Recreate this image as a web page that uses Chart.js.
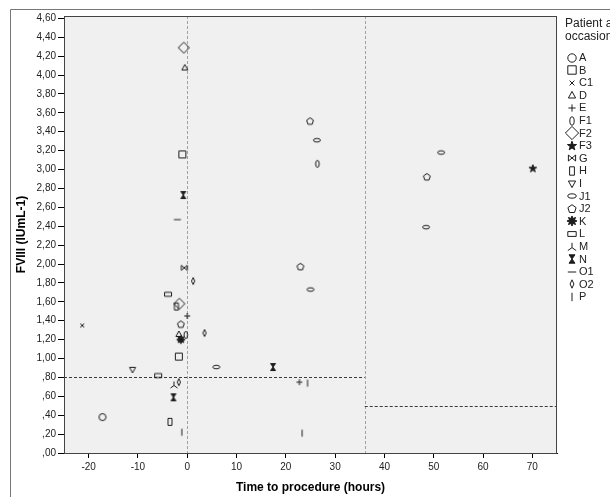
<!DOCTYPE html>
<html>
<head>
<meta charset="utf-8">
<script src="https://cdn.jsdelivr.net/npm/chart.js@4"></script>
<style>
  body { margin: 0; background: #fff; }
  canvas { display: block; }
</style>
</head>
<body>
<canvas id="fviiiChart" width="610" height="497"></canvas>
<script>
        // Patient / occasion series
        const patients = ['A', 'B', 'C1', 'D', 'E', 'F1', 'F2', 'F3', 'G', 'H', 'I', 'J1', 'J2', 'K', 'L', 'M', 'N', 'O1', 'O2', 'P'];
        const hours = [
            [-17.2],
            [-1.7, -1.0],
            [-21.3],
            [-0.5, -1.7],
            [0.0, 22.75],
            [26.4, -0.3],
            [-0.7, -1.6],
            [70.1],
            [-0.6],
            [-2.2, -3.5],
            [-11.1],
            [26.3, 25.0, 5.9, 51.5, 48.45],
            [24.9, 22.95, 48.6, -1.3],
            [-1.3],
            [-3.9, -5.9],
            [-2.7],
            [-0.8, 17.4, -2.8],
            [-2.0],
            [1.2, 3.5, -1.7],
            [-1.1, 24.4, 23.3]
        ];
        const fviii = [
            [0.38],
            [1.02, 3.16],
            [1.35],
            [4.08, 1.26],
            [1.45, 0.75],
            [3.06, 1.25],
            [4.29, 1.58],
            [3.01],
            [1.96],
            [1.55, 0.33],
            [0.88],
            [3.31, 1.73, 0.91, 3.18, 2.39],
            [3.51, 1.97, 2.92, 1.36],
            [1.20],
            [1.68, 0.82],
            [0.72],
            [2.73, 0.91, 0.59],
            [2.47],
            [1.82, 1.27, 0.75],
            [0.22, 0.74, 0.21]
        ];
        const xTicks = [-20, -10, 0, 10, 20, 30, 40, 50, 60, 70];
        const yTicks = [0, 0.2, 0.4, 0.6, 0.8, 1.0, 1.2, 1.4, 1.6, 1.8, 2.0, 2.2, 2.4, 2.6, 2.8, 3.0, 3.2, 3.4, 3.6, 3.8, 4.0, 4.2, 4.4, 4.6];
        // reference lines: vertical at time, horizontal [level, from, to]
        const cutTimes = [0, 36];
        const cutLevels = [[0.8, -25, 36], [0.5, 36, 75]];

        const INK = '#1c1c1c';
        const FONT = 'Liberation Sans, Arial, sans-serif';

        // marker glyphs drawn into small canvases, used as pointStyle
        function glyph(name, k) {
            const size = 18;
            const c = document.createElement('canvas');
            c.width = size; c.height = size;
            const g = c.getContext('2d');
            g.translate(size / 2, size / 2);
            g.strokeStyle = INK;
            g.fillStyle = INK;
            g.lineWidth = 1;
            const poly = (pts, fill) => {
                g.beginPath();
                pts.forEach((p, i) => i ? g.lineTo(p[0] * k, p[1] * k) : g.moveTo(p[0] * k, p[1] * k));
                g.closePath();
                if (fill) g.fill();
                g.stroke();
            };
            const line = (x1, y1, x2, y2) => {
                g.beginPath(); g.moveTo(x1 * k, y1 * k); g.lineTo(x2 * k, y2 * k); g.stroke();
            };
            const star = (n, ro, ri) => {
                const pts = [];
                for (let i = 0; i < n * 2; i++) {
                    const r = i % 2 ? ri : ro;
                    const a = -Math.PI / 2 + i * Math.PI / n;
                    pts.push([r * Math.cos(a), r * Math.sin(a)]);
                }
                return pts;
            };
            switch (name) {
                case 'A': g.beginPath(); g.arc(0, 0, 3.5 * k, 0, Math.PI * 2); g.stroke(); break;
                case 'B': poly([[-3.5, -3.5], [3.5, -3.5], [3.5, 3.5], [-3.5, 3.5]]); break;
                case 'C1': line(-2, -2, 2, 2); line(-2, 2, 2, -2); break;
                case 'D': poly([[0, -3], [3, 2.5], [-3, 2.5]]); break;
                case 'E': line(-3, 0, 3, 0); line(0, -3, 0, 3); break;
                case 'F1': g.beginPath(); g.ellipse(0, 0, 1.8 * k, 3.5 * k, 0, 0, Math.PI * 2); g.stroke(); break;
                case 'F2': poly([[0, -5.5], [5.5, 0], [0, 5.5], [-5.5, 0]]); break;
                case 'F3': poly(star(5, 4, 1.6), true); break;
                case 'G': poly([[-3, -2.5], [3, 2.5], [3, -2.5], [-3, 2.5]]); break;
                case 'H': poly([[-2, -3.5], [2, -3.5], [2, 3.5], [-2, 3.5]]); break;
                case 'I': poly([[0, 3], [3, -2.5], [-3, -2.5]]); break;
                case 'J1': g.beginPath(); g.ellipse(0, 0, 3.5 * k, 1.8 * k, 0, 0, Math.PI * 2); g.stroke(); break;
                case 'J2': poly(star(5, 3.6, 3.6 * Math.cos(Math.PI / 5)).filter((p, i) => i % 2 === 0)); break;
                case 'K': poly(star(8, 4.2, 2.2), true); break;
                case 'L': poly([[-3.5, -2], [3.5, -2], [3.5, 2], [-3.5, 2]]); break;
                case 'M': line(0, -3.5, 0, 0.5); line(0, 0.5, -3.5, 3); line(0, 0.5, 3.5, 3); break;
                case 'N': poly([[-2.5, -3.5], [2.5, -3.5], [-2.5, 3.5], [2.5, 3.5]], true); break;
                case 'O1': line(-3.5, 0, 3.5, 0); break;
                case 'O2': poly([[0, -3.5], [1.6, 0], [0, 3.5], [-1.6, 0]]); break;
                case 'P': line(0, -3.5, 0, 3.5); break;
            }
            return c;
        }

        const plotGlyphs = patients.map(p => glyph(p, 1));
        const legendGlyphs = patients.map(p => glyph(p, 1.2));

        const datasets = patients.map((p, i) => ({
            label: p,
            data: hours[i].map((h, j) => ({ x: h, y: fviii[i][j] })),
            pointStyle: plotGlyphs[i],
            pointRadius: 4,
            borderColor: INK,
            backgroundColor: INK
        }));

        const fmtY = v => {
            const s = v.toFixed(2).replace('.', ',');
            return v < 1 ? s.slice(1) : s;
        };

        const spssDecor = {
            id: 'spssDecor',
            beforeDraw(chart) {
                const { ctx, chartArea: a } = chart;
                ctx.save();
                ctx.fillStyle = '#fff';
                ctx.fillRect(0, 0, chart.width, chart.height);
                ctx.fillStyle = '#f0f0f0';
                ctx.fillRect(a.left, a.top, a.right - a.left, a.bottom - a.top);
                // outer frame
                ctx.strokeStyle = '#777';
                ctx.lineWidth = 1;
                ctx.beginPath();
                ctx.moveTo(10.5, chart.height);
                ctx.lineTo(10.5, 9.5);
                ctx.lineTo(chart.width, 9.5);
                ctx.stroke();
                ctx.restore();
            },
            beforeDatasetsDraw(chart) {
                const { ctx, chartArea: a, scales: { x, y } } = chart;
                ctx.save();
                ctx.lineWidth = 1;
                ctx.setLineDash([3, 2]);
                ctx.strokeStyle = '#a0a0a0';
                cutTimes.forEach(t => {
                    const px = Math.round(x.getPixelForValue(t)) + 0.5;
                    ctx.beginPath(); ctx.moveTo(px, a.top); ctx.lineTo(px, a.bottom); ctx.stroke();
                });
                ctx.strokeStyle = '#3a3a3a';
                cutLevels.forEach(([lv, from, to]) => {
                    const py = Math.round(y.getPixelForValue(lv)) + 0.5;
                    ctx.beginPath(); ctx.moveTo(x.getPixelForValue(from), py); ctx.lineTo(x.getPixelForValue(to), py); ctx.stroke();
                });
                ctx.restore();
            },
            afterDraw(chart) {
                const { ctx, chartArea: a } = chart;
                ctx.save();
                ctx.strokeStyle = '#444';
                ctx.lineWidth = 1;
                ctx.strokeRect(a.left + 0.5, a.top + 0.5, a.right - a.left - 1, a.bottom - a.top);
                // legend
                ctx.fillStyle = '#222';
                ctx.textBaseline = 'middle';
                ctx.font = '12px ' + FONT;
                ctx.fillText('Patient and', 565, 24);
                ctx.fillText('occasion', 565, 37);
                ctx.font = '11px ' + FONT;
                patients.forEach((p, i) => {
                    const cy = 57.5 + i * 12.6;
                    const gl = legendGlyphs[i];
                    ctx.drawImage(gl, Math.round(572 - gl.width / 2), Math.round(cy - gl.height / 2));
                    ctx.fillText(p, 579, cy + 0.5);
                });
                ctx.restore();
            }
        };

        new Chart(document.getElementById('fviiiChart').getContext('2d'), {
            type: 'scatter',
            data: { datasets },
            plugins: [spssDecor],
            options: {
                responsive: false,
                animation: false,
                devicePixelRatio: 1,
                layout: { padding: { left: 0, top: 16, right: 53, bottom: 0 } },
                plugins: {
                    legend: { display: false },
                    tooltip: { enabled: false }
                },
                scales: {
                    x: {
                        type: 'linear',
                        min: -25,
                        max: 75,
                        afterBuildTicks: s => { s.ticks = xTicks.map(v => ({ value: v })); },
                        afterFit: s => { s.height = 44; },
                        border: { color: '#000' },
                        grid: { drawOnChartArea: false, tickLength: 5, color: '#000' },
                        ticks: { font: { family: FONT, size: 10 }, color: '#222', padding: 3, callback: v => v },
                        title: {
                            display: true,
                            text: 'Time to procedure (hours)',
                            font: { family: FONT, size: 12, weight: 'bold' },
                            color: '#000',
                            padding: { top: 0, bottom: 2 }
                        }
                    },
                    y: {
                        min: 0,
                        max: 4.625,
                        afterBuildTicks: s => { s.ticks = yTicks.map(v => ({ value: v })); },
                        afterFit: s => { s.width = 64; },
                        border: { color: '#000' },
                        grid: { drawOnChartArea: false, tickLength: 6, color: '#000' },
                        ticks: { font: { family: FONT, size: 10 }, color: '#222', padding: 2, callback: v => fmtY(v) },
                        title: {
                            display: true,
                            text: 'FVIII (IUmL-1)',
                            font: { family: FONT, size: 12, weight: 'bold' },
                            color: '#000',
                            padding: { top: 14, bottom: 0 }
                        }
                    }
                }
            }
        });
</script>
</body>
</html>
